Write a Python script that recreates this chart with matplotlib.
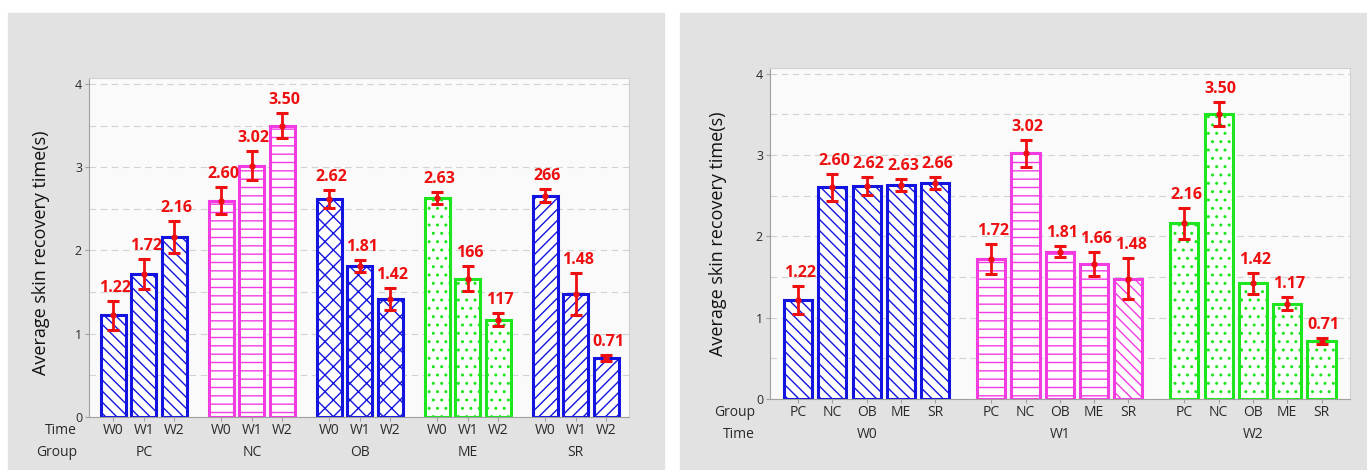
import numpy as np
import matplotlib.pyplot as plt
from matplotlib.patches import Rectangle

plt.rcParams['font.family'] = ['Open Sans', 'DejaVu Sans']
plt.rcParams['hatch.linewidth'] = 1.0

groups = ['PC', 'NC', 'OB', 'ME', 'SR']
times = ['W0', 'W1', 'W2']

# mean skin recovery time (s), columns W0, W1, W2
mean_pc = [1.22, 1.72, 2.16]
mean_nc = [2.60, 3.02, 3.50]
mean_ob = [2.62, 1.81, 1.42]
mean_me = [2.63, 1.66, 1.17]
mean_sr = [2.66, 1.48, 0.71]

# half length of the error bars
err_pc = [0.17, 0.18, 0.19]
err_nc = [0.16, 0.17, 0.15]
err_ob = [0.11, 0.07, 0.13]
err_me = [0.07, 0.15, 0.08]
err_sr = [0.075, 0.25, 0.04]

# value labels of the left chart (group order, W0..W2 inside a group)
labels_left = ['1.22', '1.72', '2.16', '2.60', '3.02', '3.50',
               '2.62', '1.81', '1.42', '2.63', '166', '117',
               '266', '1.48', '0.71']

means = np.array([mean_pc, mean_nc, mean_ob, mean_me, mean_sr])
errs = np.array([err_pc, err_nc, err_ob, err_me, err_sr])

BLUE = '#1414e0'
PINK = '#f23ce2'
GREEN = '#1ee61e'
RED = '#ee1010'
TXT = '#2a2a2a'
PX = 0.72  # points per pixel at dpi 100

W, H = 1367, 470
fig = plt.figure(figsize=(W / 100, H / 100), dpi=100, facecolor='white')

# grey panel backgrounds
for x0, x1 in [(8, 664), (680, 1367)]:
    fig.add_artist(Rectangle((x0 / W, 0), (x1 - x0) / W, (H - 13) / H,
                             transform=fig.transFigure, color='#e2e2e2',
                             zorder=-10))


def make_axes(left, right, top, bottom, ytop):
    ax = fig.add_axes([left / W, (H - bottom) / H, (right - left) / W,
                       (bottom - top) / H])
    ax.set_facecolor('#fafafa')
    ax.set_ylim(0, ytop)
    ax.set_yticks([0, 1, 2, 3, 4])
    ax.set_yticks([0.5, 1.5, 2.5, 3.5], minor=True)
    ax.grid(True, which='both', axis='y', color='#d2d2d2',
            linestyle=(0, (6, 4)), linewidth=0.8)
    ax.set_axisbelow(True)
    for s in ['top', 'right']:
        ax.spines[s].set_color('#d0d0d0')
    for s in ['left', 'bottom']:
        ax.spines[s].set_color('#a0a0a0')
    ax.tick_params(axis='y', which='major', labelsize=9, colors='#a0a0a0',
                   labelcolor=TXT, length=3, pad=2)
    ax.tick_params(axis='y', which='minor', length=0)
    ax.tick_params(axis='x', length=3, colors='#a0a0a0', labelbottom=False)
    ax.set_ylabel('Average skin recovery time(s)', fontsize=13,
                  color='#111111')
    return ax


def under(ax, x, text, dy_px, xycoords=('data', 'axes fraction'), dx_px=0,
          ha='center'):
    ax.annotate(text, xy=(x, 0), xycoords=xycoords,
                xytext=(dx_px * PX, -dy_px * PX), textcoords='offset points',
                ha=ha, va='center', fontsize=10, color=TXT,
                annotation_clip=False)


def draw_bar(ax, x, h, e, color, hatch, label):
    ax.bar(x, h, width=0.82, facecolor='white', edgecolor=color,
           hatch=hatch, linewidth=2.2, zorder=2)
    ax.errorbar(x, h, yerr=e, fmt='o', color=RED, ms=3.5, elinewidth=2.0,
                capsize=4.3, capthick=2.2, zorder=3)
    ax.annotate(label, xy=(x, h + e), xytext=(1.5, 13 * PX),
                textcoords='offset points', ha='center', va='center',
                fontsize=11.5, fontweight='bold', color=RED, zorder=4)


# ---- left chart: bars grouped by treatment group ----
ax1 = make_axes(89, 629, 78, 417, 4.072)
ax1.yaxis.set_label_coords(-0.072, 0.484)
left_color = [BLUE, PINK, BLUE, GREEN, BLUE]
left_hatch = ['\\\\\\', '--', 'xx', '..', '///']
xs1 = []
for g in range(len(groups)):
    for t in range(len(times)):
        x = g * 3.55 + t
        xs1.append(x)
        draw_bar(ax1, x, means[g, t], errs[g, t], left_color[g],
                 left_hatch[g], labels_left[g * 3 + t])
        under(ax1, x, times[t], 14)
    under(ax1, g * 3.55 + 1, groups[g], 35)
ax1.set_xticks(xs1)
ax1.set_xlim(-0.8, 16.95)
under(ax1, 0, 'Time', 14, xycoords='axes fraction', dx_px=-12, ha='right')
under(ax1, 0, 'Group', 35, xycoords='axes fraction', dx_px=-12, ha='right')

# ---- right chart: bars grouped by time point ----
ax2 = make_axes(770, 1350, 68, 399, 4.069)
ax2.yaxis.set_label_coords(-0.075, 0.5)
right_color = [BLUE, PINK, GREEN]
right_hatch = [['\\\\\\'] * 5,
               ['--', '--', '--', '--', '\\\\\\'],
               ['..'] * 5]
xs2 = []
for t in range(len(times)):
    for g in range(len(groups)):
        x = t * 5.63 + g
        xs2.append(x)
        draw_bar(ax2, x, means[g, t], errs[g, t], right_color[t],
                 right_hatch[t][g], f'{means[g, t]:.2f}')
        under(ax2, x, groups[g], 14)
    under(ax2, t * 5.63 + 2, times[t], 35)
ax2.set_xticks(xs2)
ax2.set_xlim(-0.82, 16.09)
under(ax2, 0, 'Group', 14, xycoords='axes fraction', dx_px=-15, ha='right')
under(ax2, 0, 'Time', 35, xycoords='axes fraction', dx_px=-15, ha='right')

fig.savefig('out.png', dpi=100, facecolor='white')
